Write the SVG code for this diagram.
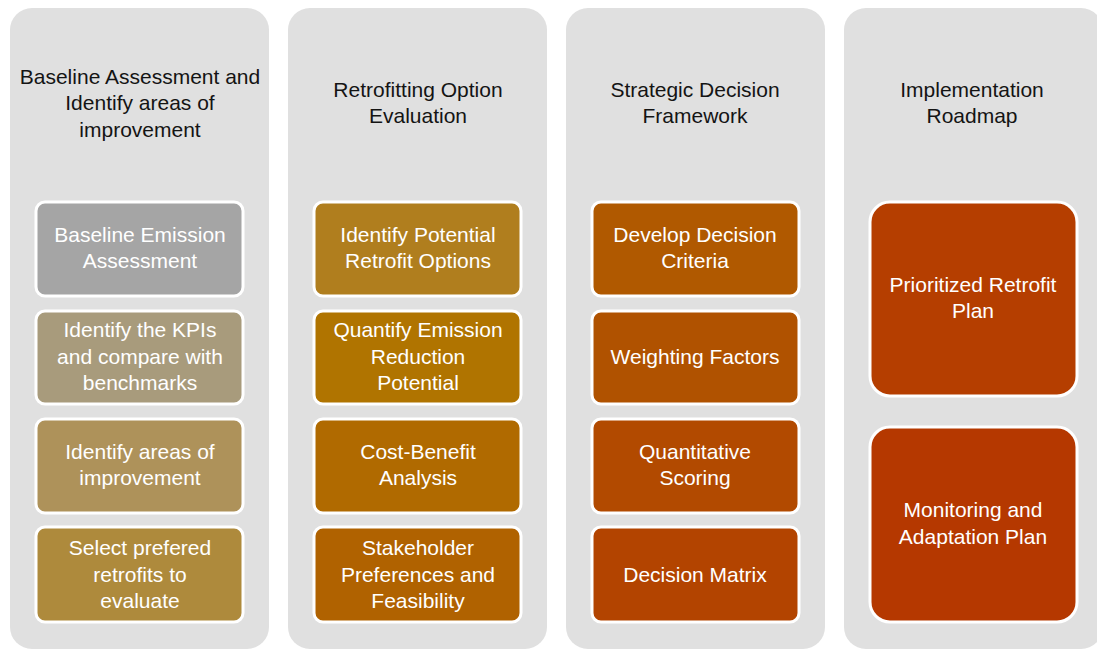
<svg xmlns="http://www.w3.org/2000/svg" width="1097" height="650" viewBox="0 0 1097 650">
  <style>
    .lane { fill: #e0e0e0; }
    .title { font-family: "Liberation Sans", Arial, sans-serif; font-size: 21px; fill: #141414; text-anchor: middle; }
    .box { stroke: #ffffff; stroke-width: 3; }
    .label { font-family: "Liberation Sans", Arial, sans-serif; font-size: 21px; fill: #ffffff; text-anchor: middle; }
  </style>
  <rect width="1097" height="650" fill="#ffffff"/>

  <!-- Lane 1: baseline assessment -->
  <g id="lane-baseline">
    <rect class="lane" x="10" y="8" width="259" height="641" rx="22"/>
    <text class="title" x="140" y="84">Baseline Assessment and</text>
    <text class="title" x="140" y="110">Identify areas of</text>
    <text class="title" x="140" y="137">improvement</text>
  </g>
  <g id="node-baseline-emission">
    <rect class="box" x="36" y="202" width="207" height="94" rx="9" fill="#a5a5a5"/>
    <text class="label" x="140" y="242">Baseline Emission</text>
    <text class="label" x="140" y="268">Assessment</text>
  </g>
  <g id="node-kpis">
    <rect class="box" x="36" y="311" width="207" height="93" rx="9" fill="#a89b7c"/>
    <text class="label" x="140" y="337">Identify the KPIs</text>
    <text class="label" x="140" y="364">and compare with</text>
    <text class="label" x="140" y="390">benchmarks</text>
  </g>
  <g id="node-areas">
    <rect class="box" x="36" y="419" width="207" height="94" rx="9" fill="#ae925a"/>
    <text class="label" x="140" y="459">Identify areas of</text>
    <text class="label" x="140" y="485">improvement</text>
  </g>
  <g id="node-select">
    <rect class="box" x="36" y="527" width="207" height="95" rx="9" fill="#ae8a3c"/>
    <text class="label" x="140" y="555">Select prefered</text>
    <text class="label" x="140" y="582">retrofits to</text>
    <text class="label" x="140" y="608">evaluate</text>
  </g>

  <!-- Lane 2: option evaluation -->
  <g id="lane-evaluation">
    <rect class="lane" x="288" y="8" width="259" height="641" rx="22"/>
    <text class="title" x="418" y="97">Retrofitting Option</text>
    <text class="title" x="418" y="123">Evaluation</text>
  </g>
  <g id="node-potential-options">
    <rect class="box" x="314" y="202" width="207" height="94" rx="9" fill="#b07e1e"/>
    <text class="label" x="418" y="242">Identify Potential</text>
    <text class="label" x="418" y="268">Retrofit Options</text>
  </g>
  <g id="node-quantify">
    <rect class="box" x="314" y="311" width="207" height="93" rx="9" fill="#b07400"/>
    <text class="label" x="418" y="337">Quantify Emission</text>
    <text class="label" x="418" y="364">Reduction</text>
    <text class="label" x="418" y="390">Potential</text>
  </g>
  <g id="node-cost-benefit">
    <rect class="box" x="314" y="419" width="207" height="94" rx="9" fill="#b06a00"/>
    <text class="label" x="418" y="459">Cost-Benefit</text>
    <text class="label" x="418" y="485">Analysis</text>
  </g>
  <g id="node-stakeholder">
    <rect class="box" x="314" y="527" width="207" height="95" rx="9" fill="#b06200"/>
    <text class="label" x="418" y="555">Stakeholder</text>
    <text class="label" x="418" y="582">Preferences and</text>
    <text class="label" x="418" y="608">Feasibility</text>
  </g>

  <!-- Lane 3: decision framework -->
  <g id="lane-decision">
    <rect class="lane" x="566" y="8" width="259" height="641" rx="22"/>
    <text class="title" x="695" y="97">Strategic Decision</text>
    <text class="title" x="695" y="123">Framework</text>
  </g>
  <g id="node-criteria">
    <rect class="box" x="592" y="202" width="207" height="94" rx="9" fill="#b05900"/>
    <text class="label" x="695" y="242">Develop Decision</text>
    <text class="label" x="695" y="268">Criteria</text>
  </g>
  <g id="node-weighting">
    <rect class="box" x="592" y="311" width="207" height="93" rx="9" fill="#b05200"/>
    <text class="label" x="695" y="364">Weighting Factors</text>
  </g>
  <g id="node-scoring">
    <rect class="box" x="592" y="419" width="207" height="94" rx="9" fill="#b24a00"/>
    <text class="label" x="695" y="459">Quantitative</text>
    <text class="label" x="695" y="485">Scoring</text>
  </g>
  <g id="node-matrix">
    <rect class="box" x="592" y="527" width="207" height="95" rx="9" fill="#b34400"/>
    <text class="label" x="695" y="582">Decision Matrix</text>
  </g>

  <!-- Lane 4: roadmap -->
  <g id="lane-roadmap">
    <rect class="lane" x="844" y="8" width="259" height="641" rx="22"/>
    <text class="title" x="972" y="97">Implementation</text>
    <text class="title" x="972" y="123">Roadmap</text>
  </g>
  <g id="node-prioritized">
    <rect class="box" x="870" y="202" width="207" height="194" rx="20" fill="#b53e00"/>
    <text class="label" x="973" y="292">Prioritized Retrofit</text>
    <text class="label" x="973" y="318">Plan</text>
  </g>
  <g id="node-monitoring">
    <rect class="box" x="870" y="427" width="207" height="195" rx="20" fill="#b53800"/>
    <text class="label" x="973" y="517">Monitoring and</text>
    <text class="label" x="973" y="544">Adaptation Plan</text>
  </g>
</svg>
